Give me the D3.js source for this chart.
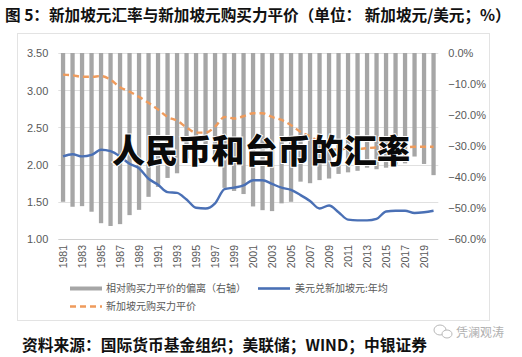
<!DOCTYPE html>
<html><head><meta charset="utf-8">
<script src="https://cdn.jsdelivr.net/npm/d3@7"></script>
<style>
html,body{margin:0;padding:0;background:#fff;}
svg{display:block;}
text{font-family:"Liberation Sans",Arial,sans-serif;}
.cjk{font-family:"Noto Sans CJK SC",sans-serif;}
</style></head>
<body>
<script>
const years = d3.range(1981, 2021);
const deviation = [-48.0,-49.6,-49.4,-51.2,-54.9,-55.8,-55.2,-52.3,-50.6,-46.4,
  -43.2,-40.3,-38.8,-34.0,-33.0,-33.5,-35.0,-43.5,-44.5,-45.5,
  -49.5,-50.7,-51.0,-48.5,-48.0,-41.5,-42.0,-41.0,-40.5,-39.0,
  -38.5,-38.0,-37.0,-37.5,-37.0,-36.0,-35.6,-33.4,-35.8,-39.4];
const usdSgd = [2.11,2.14,2.11,2.13,2.20,2.18,2.11,2.01,1.95,1.81,
  1.73,1.63,1.62,1.53,1.42,1.41,1.48,1.67,1.69,1.72,
  1.79,1.79,1.74,1.69,1.66,1.59,1.51,1.41,1.45,1.36,
  1.26,1.25,1.25,1.27,1.37,1.38,1.38,1.35,1.36,1.38];
const ppp = [3.21,3.20,3.18,3.18,3.19,3.14,3.04,2.98,2.91,2.83,
  2.74,2.64,2.59,2.50,2.43,2.43,2.51,2.64,2.62,2.65,
  2.69,2.69,2.64,2.60,2.53,2.44,2.38,2.30,2.22,2.20,
  2.22,2.21,2.22,2.23,2.23,2.22,2.23,2.24,2.24,2.24];
const leftTicks = [1.00,1.50,2.00,2.50,3.00,3.50];
const rightTicks = [0,-10,-20,-30,-40,-50,-60];
const xTickYears = d3.range(1981, 2021, 2);
const titleText = "图 5：新加坡元汇率与新加坡元购买力平价（单位：  新加坡元/美元；%）";
const overlayText = "人民币和台币的汇率";
const sourceText = "资料来源：国际货币基金组织；美联储；WIND；中银证券";
const legendNames = ["相对购买力平价的偏离（右轴）","美元兑新加坡元:年均","新加坡元购买力平价"];
const watermark = "凭澜观涛";

const W = 522, H = 357;
const svg = d3.select("body").append("svg").attr("width", W).attr("height", H);

const pTop = 53, pBottom = 239, pLeft = 58.3, pRight = 438.3;
const x = d3.scaleBand().domain(years).range([pLeft, pRight]).paddingInner(0.55).paddingOuter(0.275);
const yL = d3.scaleLinear().domain([1, 3.5]).range([pBottom, pTop]);
const yR = d3.scaleLinear().domain([-60, 0]).range([pBottom, pTop]);
const cx = d => x(d) + x.bandwidth()/2;

// chart frame
svg.append("rect").attr("x",17.5).attr("y",33.5).attr("width",472).attr("height",287)
  .attr("fill","none").attr("stroke","#e3e3e3").attr("stroke-width",1);

// gridlines
svg.append("g").selectAll("line").data(leftTicks).join("line")
  .attr("x1", pLeft).attr("x2", pRight)
  .attr("y1", d => Math.round(yL(d))+0.5).attr("y2", d => Math.round(yL(d))+0.5)
  .attr("stroke", d => d===1 ? "#d0d0d0" : "#e0e0e0").attr("stroke-width",1);

// left axis
const gL = svg.append("g").attr("transform",`translate(${pLeft-10},0)`)
  .call(d3.axisLeft(yL).tickValues(leftTicks).tickFormat(d3.format(".2f")).tickSize(0));
gL.select(".domain").remove();
gL.selectAll("text").attr("fill","#595959").attr("font-size","11px").attr("x",0).attr("dy","0.35em");

// right axis
const gR = svg.append("g").attr("transform",`translate(${pRight+10},0)`)
  .call(d3.axisRight(yR).tickValues(rightTicks).tickFormat(d => d3.format(".1f")(d)+"%").tickSize(0));
gR.select(".domain").remove();
gR.selectAll("text").attr("fill","#595959").attr("font-size","11px").attr("x",0).attr("dy","0.35em");

// x axis labels
const gX = svg.append("g");
gX.selectAll("text").data(xTickYears).join("text")
  .attr("transform", d => `translate(${cx(d)+3.8},${pBottom+6}) rotate(-90)`)
  .attr("text-anchor","end").attr("fill","#595959").attr("font-size","10.5px")
  .text(d => d);

// bars
svg.append("g").selectAll("rect").data(years).join("rect")
  .attr("x", d => x(d)).attr("width", x.bandwidth())
  .attr("y", yR(0)).attr("height", (d,i) => yR(deviation[i]) - yR(0))
  .attr("fill","#a6a6a6");

// lines
const lineP = d3.line().x((d,i) => cx(years[i])).y(d => yL(d)).curve(d3.curveMonotoneX);
svg.append("path").datum(ppp).attr("d", lineP)
  .attr("fill","none").attr("stroke","#ef9b5c").attr("stroke-width",2.4)
  .attr("stroke-dasharray","6,4");
svg.append("path").datum(usdSgd).attr("d", lineP)
  .attr("fill","none").attr("stroke","#4a70b5").attr("stroke-width",2.4)
  .attr("stroke-linejoin","round");

// legend
const lg = svg.append("g");
lg.append("line").attr("x1",70).attr("x2",102).attr("y1",288.5).attr("y2",288.5)
  .attr("stroke","#a6a6a6").attr("stroke-width",4);
lg.append("text").attr("class","cjk").attr("x",106).attr("y",288.5).attr("dy","0.35em")
  .attr("font-size","10px").attr("fill","#595959").text(legendNames[0]);
lg.append("line").attr("x1",258).attr("x2",290).attr("y1",288.5).attr("y2",288.5)
  .attr("stroke","#4a70b5").attr("stroke-width",2.6);
lg.append("text").attr("class","cjk").attr("x",295).attr("y",288.5).attr("dy","0.35em")
  .attr("font-size","10px").attr("fill","#595959").text(legendNames[1]);
lg.append("line").attr("x1",70).attr("x2",102).attr("y1",306.5).attr("y2",306.5)
  .attr("stroke","#ef9b5c").attr("stroke-width",2.6).attr("stroke-dasharray","6,4");
lg.append("text").attr("class","cjk").attr("x",106).attr("y",306.5).attr("dy","0.35em")
  .attr("font-size","10px").attr("fill","#595959").text(legendNames[2]);

function fit(sel, w){
  const fs = parseFloat(sel.attr("font-size"));
  const cur = sel.node().getComputedTextLength();
  if (cur > 0) sel.attr("font-size", (fs*w/cur).toFixed(2)+"px");
}

// title
const t = svg.append("text").attr("class","cjk").attr("x",5).attr("y",15.5).attr("dy","0.35em")
  .attr("font-size","14px").attr("font-weight","bold").attr("fill","#111").text(titleText);
fit(t, 506);

// overlay text
const o = svg.append("text").attr("class","cjk").attr("x",112).attr("y",151).attr("dy","0.35em")
  .attr("font-size","32px").attr("font-weight","900").attr("fill","#0a0a0a")
  .attr("stroke","#fff").attr("stroke-width",2).attr("paint-order","stroke").text(overlayText);
fit(o, 298);

// source
const s = svg.append("text").attr("class","cjk").attr("x",22).attr("y",345).attr("dy","0.35em")
  .attr("font-size","15px").attr("font-weight","bold").attr("fill","#111").text(sourceText);
fit(s, 405);

// watermark
const wm = svg.append("g").attr("fill","none").attr("stroke","#b8b8b8").attr("stroke-width",1);
wm.append("ellipse").attr("cx",440).attr("cy",330).attr("rx",6).attr("ry",5);
wm.append("ellipse").attr("cx",447).attr("cy",334).attr("rx",5).attr("ry",4).attr("fill","#fff");
svg.append("text").attr("class","cjk").attr("x",456).attr("y",333).attr("dy","0.35em")
  .attr("font-size","12px").attr("fill","#b0b0b0").text(watermark);
</script>
</body></html>
